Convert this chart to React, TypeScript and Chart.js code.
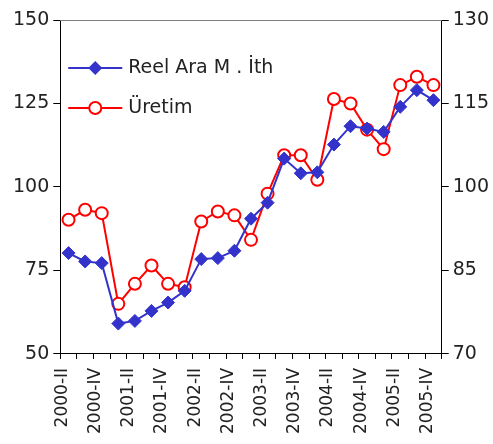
import React, { useEffect, useRef } from "react";
import { Chart, registerables } from "chart.js";

Chart.register(...registerables);

const categories = [
  "2000-II", "2000-III", "2000-IV",
  "2001-I", "2001-II", "2001-III", "2001-IV",
  "2002-I", "2002-II", "2002-III", "2002-IV",
  "2003-I", "2003-II", "2003-III", "2003-IV",
  "2004-I", "2004-II", "2004-III", "2004-IV",
  "2005-I", "2005-II", "2005-III", "2005-IV",
];

const reelAraIth = [
  80.2, 77.7, 77.2, 59.1, 59.9, 62.9, 65.4, 68.9, 78.4, 78.7, 80.9, 90.5,
  95.3, 108.5, 104.1, 104.4, 112.7, 118.2, 117.5, 116.5, 124.0, 129.0, 126.0,
];

const uretim = [
  94.1, 95.9, 95.3, 79.0, 82.6, 85.9, 82.6, 82.0, 93.8, 95.6, 94.9, 90.5,
  98.8, 105.7, 105.7, 101.3, 115.8, 115.0, 110.3, 106.8, 118.3, 119.8, 118.3,
];

const leftTicks = [50, 75, 100, 125, 150];
const rightTicks = [70, 85, 100, 115, 130];

const FONT = "'DejaVu Sans', sans-serif";
const BLUE = "#3333CC";
const RED = "#FF0000";

const frameAndLegend = {
  id: "frameAndLegend",
  afterDraw(chart: any) {
    const ctx = chart.ctx;
    const a = chart.chartArea;
    ctx.save();
    ctx.strokeStyle = "#808080";
    ctx.lineWidth = 1;
    ctx.beginPath();
    ctx.moveTo(a.left, a.top + 0.5);
    ctx.lineTo(a.right, a.top + 0.5);
    ctx.stroke();

    const items = [
      { label: "Reel Ara M . İth", color: BLUE, style: "rectRot", y: 68 },
      { label: "Üretim", color: RED, style: "circle", y: 108 },
    ];
    const x0 = a.left + 8;
    const x1 = a.left + 62;
    items.forEach((it) => {
      ctx.strokeStyle = it.color;
      ctx.lineWidth = 2;
      ctx.beginPath();
      ctx.moveTo(x0, it.y);
      ctx.lineTo(x1, it.y);
      ctx.stroke();
      const cx = (x0 + x1) / 2;
      ctx.beginPath();
      if (it.style === "rectRot") {
        ctx.fillStyle = it.color;
        ctx.moveTo(cx, it.y - 7);
        ctx.lineTo(cx + 7, it.y);
        ctx.lineTo(cx, it.y + 7);
        ctx.lineTo(cx - 7, it.y);
        ctx.closePath();
        ctx.fill();
      } else {
        ctx.fillStyle = "#fff";
        ctx.arc(cx, it.y, 6, 0, Math.PI * 2);
        ctx.fill();
        ctx.stroke();
      }
      ctx.fillStyle = "#222";
      ctx.font = `19px ${FONT}`;
      ctx.textBaseline = "middle";
      ctx.textAlign = "left";
      ctx.fillText(it.label, x1 + 6, it.y);
    });
    ctx.restore();
  },
};

export default function App() {
  const ref = useRef<HTMLCanvasElement | null>(null);

  useEffect(() => {
    document.body.style.margin = "0";
    const canvas = ref.current;
    if (!canvas) return;
    const chart = new Chart(canvas, {
      type: "line",
      data: {
        labels: categories,
        datasets: [
          {
            label: "Reel Ara M . İth",
            data: reelAraIth,
            yAxisID: "y",
            borderColor: BLUE,
            backgroundColor: BLUE,
            borderWidth: 2,
            pointStyle: "rectRot",
            pointRadius: 6.5,
            pointBorderWidth: 1,
            pointBorderColor: BLUE,
            pointBackgroundColor: BLUE,
            tension: 0,
          },
          {
            label: "Üretim",
            data: uretim,
            yAxisID: "y2",
            borderColor: RED,
            backgroundColor: "#fff",
            borderWidth: 2,
            pointStyle: "circle",
            pointRadius: 6,
            pointBorderWidth: 2,
            pointBorderColor: RED,
            pointBackgroundColor: "#fff",
            tension: 0,
          },
        ],
      },
      options: {
        animation: false,
        responsive: false,
        maintainAspectRatio: false,
        layout: { padding: { top: 20, left: 9, right: 0, bottom: 1 } },
        plugins: {
          legend: { display: false },
          tooltip: { enabled: false },
        },
        scales: {
          x: {
            type: "category",
            offset: true,
            grid: {
              offset: true,
              drawOnChartArea: false,
              drawTicks: true,
              tickLength: 5,
              color: "#000",
            },
            border: { display: true, color: "#000", width: 1 },
            ticks: {
              autoSkip: false,
              maxRotation: 90,
              minRotation: 90,
              labelOffset: -6,
              padding: 9,
              color: "#222",
              font: { family: FONT, size: 17 },
              callback: (_v: any, i: number) => (i % 2 === 0 ? categories[i] : ""),
            },
          },
          y: {
            position: "left",
            min: 50,
            max: 150,
            afterBuildTicks: (axis: any) => {
              axis.ticks = leftTicks.map((v) => ({ value: v }));
            },
            grid: {
              drawOnChartArea: false,
              drawTicks: true,
              tickLength: 7,
              color: "#000",
            },
            border: { display: true, color: "#000", width: 1 },
            ticks: {
              padding: 4,
              color: "#222",
              font: { family: FONT, size: 19 },
            },
          },
          y2: {
            position: "right",
            min: 70,
            max: 130,
            afterBuildTicks: (axis: any) => {
              axis.ticks = rightTicks.map((v) => ({ value: v }));
            },
            grid: {
              drawOnChartArea: false,
              drawTicks: true,
              tickLength: 7,
              color: "#000",
            },
            border: { display: true, color: "#000", width: 1 },
            ticks: {
              padding: 4,
              color: "#222",
              font: { family: FONT, size: 19 },
            },
          },
        },
      },
      plugins: [frameAndLegend],
    });
    return () => chart.destroy();
  }, []);

  return (
    <div style={{ position: "fixed", left: 0, top: 0, width: 493, height: 444, background: "#fff" }}>
      <canvas ref={ref} width={493} height={444} style={{ width: 493, height: 444 }} />
    </div>
  );
}
